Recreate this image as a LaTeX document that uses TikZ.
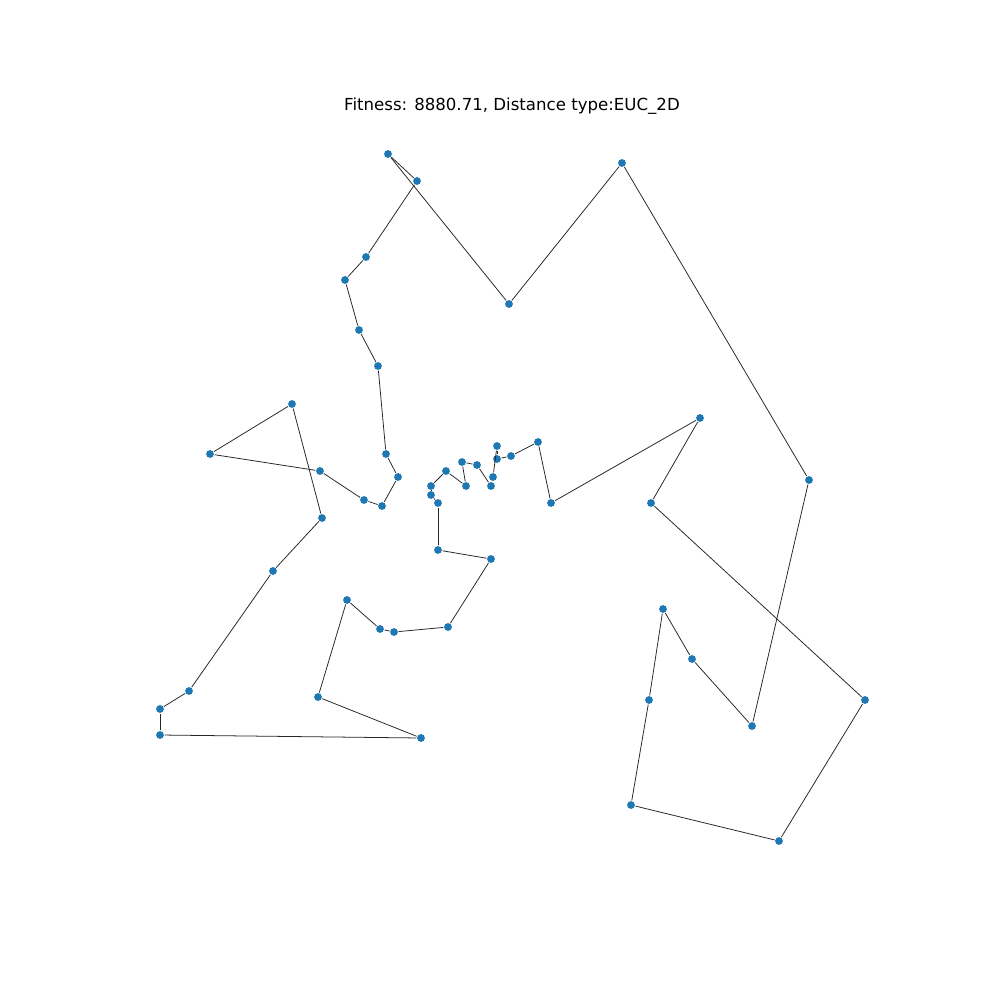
\documentclass[tikz,border=0pt]{standalone}
\usepackage{fontspec}
\setmainfont{DejaVu Sans}
\definecolor{tabblue}{HTML}{1F77B4}
\begin{document}
\begin{tikzpicture}[x=0.01cm,y=-0.01cm,
  city/.style={circle,fill=tabblue,inner sep=0pt,minimum size=0.078cm},
  edge/.style={draw=black!85,line width=0.22pt}]
\useasboundingbox (0,0) rectangle (1000,1000);
\node[font=\fontsize{4.72}{5.6}\selectfont] (title) at (512,106) {Fitness: 8880.71, Distance type:EUC\_2D};
\foreach \i/\x/\y in {1/388/154,2/509/304,3/622/163,4/809/480,5/752/726,6/692/659,7/663/609,8/649/700,9/631/805,10/779/841,11/865/700,12/651/503,13/700/418,14/551/503,15/538/442,16/511/456,17/497/459,18/497/446,19/493/477,20/491/486,21/477/465,22/462/462,23/466/486,24/446/471,25/431/486,26/431/495,27/438/503,28/438/550,29/491/559,30/448/627,31/394/632,32/380/629,33/347/600,34/318/697,35/421/738,36/160/735,37/160/709,38/189/691,39/273/571,40/322/518,41/292/404,42/210/454,43/320/471,44/364/500,45/382/506,46/398/477,47/386/454,48/378/366,49/359/330,50/345/280,51/366/257,52/417/181}
  \node[city] (p\i) at (\x,\y) {};
\foreach \a/\b in {1/2,2/3,3/4,4/5,5/6,6/7,7/8,8/9,9/10,10/11,11/12,12/13,13/14,14/15,15/16,16/17,17/18,18/19,19/20,20/21,21/22,22/23,23/24,24/25,25/26,26/27,27/28,28/29,29/30,30/31,31/32,32/33,33/34,34/35,35/36,36/37,37/38,38/39,39/40,40/41,41/42,42/43,43/44,44/45,45/46,46/47,47/48,48/49,49/50,50/51,51/52,52/1}
  \draw[edge] (p\a) -- (p\b);
\end{tikzpicture}
\end{document}
